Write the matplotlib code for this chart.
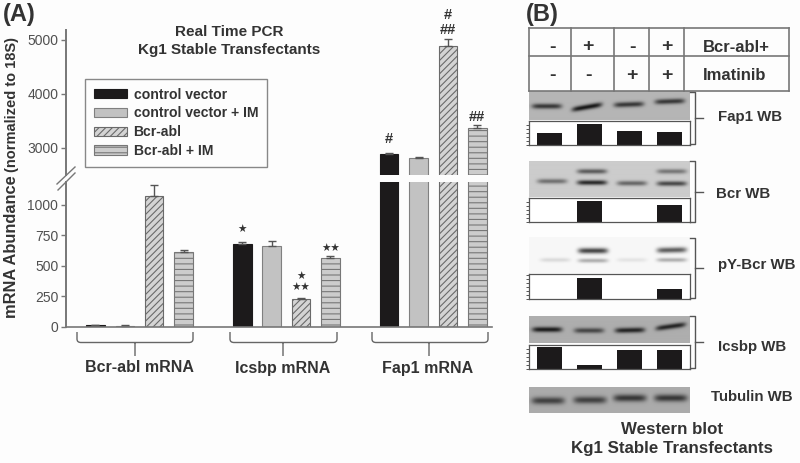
import numpy as np
import matplotlib
matplotlib.use("Agg")
import matplotlib.pyplot as plt
from matplotlib.path import Path
from matplotlib.patches import PathPatch

# Panel A data
groups = ["Bcr-abl mRNA", "Icsbp mRNA", "Fap1 mRNA"]
series_names = ["control vector", "control vector + IM", "Bcr-abl", "Bcr-abl + IM"]
control_vector = [10, 680, 2894]
control_vector_im = [8, 660, 2820]
bcr_abl = [1076, 226, 4889]
bcr_abl_im = [616, 566, 3376]
control_vector_err = [2, 15, 20]
control_vector_im_err = [2, 42, 20]
bcr_abl_err = [90, 5, 130]
bcr_abl_im_err = [14, 10, 55]
lower_ticks = [0, 250, 500, 750, 1000]
upper_ticks = [3000, 4000, 5000]

# (group, bar, label, pixels above the error bar)
marks = [(1, 0, "★", 12), (1, 2, "★★", 10), (1, 2, "★", 21), (1, 3, "★★", 8),
         (2, 0, "#", 14), (2, 2, "##", 9), (2, 2, "#", 24), (2, 3, "##", 8)]

# Panel B data
bcr_signs = ["-", "+", "-", "+"]
imatinib_signs = ["-", "-", "+", "+"]
fap1_density = [12, 21, 13.3, 12.6]
bcr_density = [0, 21, 0, 16.5]
pybcr_density = [0, 21.5, 0, 10]
icsbp_density = [22, 4.5, 19, 19]

# band strength per lane
fap1_band = [0.7, 0.88, 0.7, 0.7]
bcr_upper = [0, 0.55, 0, 0.42]
bcr_lower = [0.45, 0.8, 0.5, 0.65]
pybcr_upper = [0, 0.72, 0, 0.62]
pybcr_lower = [0.12, 0.3, 0.08, 0.3]
icsbp_band = [0.85, 0.6, 0.8, 0.8]
tubulin_band = [0.62, 0.62, 0.68, 0.68]

W, H = 800, 463
DARK = "#333333"
GREY = "#777777"

plt.rcParams["font.family"] = ["Liberation Sans", "DejaVu Sans"]
plt.rcParams["hatch.linewidth"] = 0.8

fig = plt.figure(figsize=(W / 100, H / 100), dpi=100, facecolor="#fdfdfd")


def px_axes(x0, y0, x1, y1):
    # axes from pixel box, y counted from the top
    ax = fig.add_axes([x0 / W, 1 - y1 / H, (x1 - x0) / W, (y1 - y0) / H])
    ax.patch.set_alpha(0)
    return ax


# Panel A bars, broken y axis
ax_up = px_axes(66, 30, 492, 175)
ax_low = px_axes(66, 182, 492, 326.5)

styles = [
    dict(color="#1c1a1b", edgecolor="#1c1a1b"),
    dict(color="#c2c2c2", edgecolor="#808080"),
    dict(facecolor="#d4d4d4", edgecolor="#6a6a6a", hatch="/////"),
    dict(facecolor="#cccccc", edgecolor="#777777", hatch="---"),
]
values = [control_vector, control_vector_im, bcr_abl, bcr_abl_im]
errors = [control_vector_err, control_vector_im_err, bcr_abl_err, bcr_abl_im_err]
handles = []
for j in range(4):
    xs = [g * 5 + j for g in range(len(groups))]
    for ax in (ax_up, ax_low):
        bars = ax.bar(xs, values[j], width=0.63, linewidth=0.8, **styles[j])
        ax.errorbar(xs, values[j], yerr=[[0, 0, 0], errors[j]], fmt="none",
                    ecolor="#555555", elinewidth=1, capsize=3, capthick=1)
    handles.append(bars)

ax_up.set_ylim(2500, 5185)
ax_low.set_ylim(0, 1189)
for ax in (ax_up, ax_low):
    ax.set_xlim(-1, 13.5)
    ax.set_xticks([])
    for side in ["top", "right"]:
        ax.spines[side].set_visible(False)
    ax.spines["left"].set_color(GREY)
    ax.spines["left"].set_linewidth(1.4)
    ax.tick_params(axis="y", length=3.5, width=1, color=GREY, labelsize=10, labelcolor="#505050", pad=2)
ax_up.spines["bottom"].set_visible(False)
ax_low.spines["bottom"].set_color(GREY)
ax_low.spines["bottom"].set_linewidth(1.2)
ax_up.set_yticks(upper_ticks)
ax_low.set_yticks(lower_ticks)

for g, j, label, dy in marks:
    ax = ax_up if g == 2 else ax_low
    top = values[j][g] + errors[j][g]
    size = 7.6 if "★" in label else 10.5
    ax.annotate(label, (g * 5 + j, top), xytext=(0, dy * 0.72), textcoords="offset points",
                ha="center", va="center", fontsize=size, color=DARK,
                fontweight="bold", annotation_clip=False)

fig.legend(handles=handles, labels=series_names, loc="upper left",
           bbox_to_anchor=(85 / W, 1 - 79 / H), bbox_transform=fig.transFigure,
           prop=dict(family="Liberation Sans", weight="bold", size=10.1),
           labelcolor=DARK, frameon=True, fancybox=False, framealpha=1,
           facecolor="#fdfdfd", edgecolor="#888888", borderaxespad=0,
           handlelength=2.35, handleheight=0.63, handletextpad=0.49,
           labelspacing=0.34, borderpad=0.62)


def blot(box, background, lanes, rows, half_width=15.0):
    # grey blot picture: rows is a list of (y per lane, strength per lane, tilt per lane, thickness)
    x0, y0, x1, y1 = box
    ax = px_axes(x0, y0, x1, y1)
    xx, yy = np.meshgrid(np.linspace(x0, x1, (x1 - x0) * 2), np.linspace(y0, y1, (y1 - y0) * 2))
    shade = np.zeros(xx.shape)
    for ys, strengths, tilts, sigma in rows:
        for lane, y_band, strength, tilt in zip(lanes, ys, strengths, tilts):
            across = np.exp(-((xx - lane) / half_width) ** 6)
            along = np.exp(-((yy - y_band - tilt * (lane - xx) / half_width) ** 2) / (2 * sigma ** 2))
            shade = np.maximum(shade, strength * across * along)
    img = background * (1 - shade)
    ax.imshow(img, cmap="gray", vmin=0, vmax=1, aspect="auto", interpolation="bilinear")
    ax.axis("off")


def density(box, heights):
    # little bar chart under each blot
    x0, y0, x1, y1 = box
    ax = px_axes(x0, y0, x1, y1)
    ax.bar(range(4), heights, width=0.62, color="#1c1a1b")
    ax.set_xlim(-0.51, 3.51)
    ax.set_ylim(0, (y1 - y0))
    ax.set_xticks([])
    ax.set_yticks(np.arange(0, y1 - y0, 4))
    ax.set_yticklabels([])
    ax.tick_params(axis="y", length=2, width=0.7, color="#555555")
    ax.patch.set_facecolor("white")
    ax.patch.set_alpha(1)
    for s in ax.spines.values():
        s.set_color("#555555")
        s.set_linewidth(0.9)


blot((529, 91, 690, 120), 0.71, [546.7, 587, 629, 670],
     [([106.7, 107.5, 105, 102], fap1_band, [0, 2.5, 0.5, 0.5], 1.8)])
density((529, 121, 690, 144.5), fap1_density)

blot((529, 161, 690, 197), 0.80, [552, 592, 632, 672],
     [([172, 172, 172, 172], bcr_upper, [0, 0, 0, 0], 1.7),
      ([181.7, 183, 183.7, 184], bcr_lower, [0, 0, 0, 0], 1.7)])
density((529, 198, 690, 221.5), bcr_density)

blot((529, 237, 690, 273), 0.97, [555, 593, 632, 672],
     [([250, 250.7, 250, 250], pybcr_upper, [0, 0, 0, 0.3], 2.0),
      ([260, 260.7, 260, 260], pybcr_lower, [0, 0, 0, 0], 1.5)])
density((529, 274, 690, 299), pybcr_density)

blot((529, 316, 690, 343), 0.68, [547, 589, 630, 671],
     [([330, 331, 330.7, 327], icsbp_band, [0, 0, 0.3, 2], 1.8)])
density((529, 345, 690, 369), icsbp_density)

blot((529, 387, 690, 413), 0.67, [548, 590, 630, 671],
     [([400.7, 400, 398, 398], tubulin_band, [0, 0, 0, 0], 2.6)], half_width=16.5)

# page overlay in pixels: text, braces, table lines
page = fig.add_axes([0, 0, 1, 1])
page.set_xlim(0, W)
page.set_ylim(H, 0)
page.axis("off")

# axis break
page.plot([57, 75], [184, 167], color=GREY, lw=1)
page.plot([58, 75], [190, 173], color=GREY, lw=1)


def brace(x0, x1, xm):
    verts = [(x0, 332), (x0, 339), (x0, 342.5), (x0 + 4, 342.5), (x1 - 4, 342.5),
             (x1, 342.5), (x1, 339), (x1, 332), (xm, 342.5), (xm, 356)]
    codes = [Path.MOVETO, Path.LINETO, Path.CURVE3, Path.CURVE3, Path.LINETO,
             Path.CURVE3, Path.CURVE3, Path.LINETO, Path.MOVETO, Path.LINETO]
    page.add_patch(PathPatch(Path(verts, codes), fill=False, edgecolor="#666666", lw=1))


for (x0, x1, xm), name, xt in zip([(77, 193, 135), (230, 337, 283), (372, 488, 429)], groups, [139, 283, 428]):
    brace(x0, x1, xm)
    page.text(xt, 368, name, ha="center", va="center", fontsize=11.5, fontweight="bold", color=DARK)

page.text(12, 247, "mRNA Abundance", rotation=90, ha="center", va="center", fontsize=11.8, fontweight="bold", color=DARK)
page.text(12, 105, "(normalized to 18S)", rotation=90, ha="center", va="center", fontsize=10.5, fontweight="bold", color=DARK)
page.text(3, 15, "(A)", ha="left", va="center", fontsize=17, fontweight="bold", color=DARK)
page.text(526, 15, "(B)", ha="left", va="center", fontsize=17, fontweight="bold", color=DARK)
page.text(229, 32, "Real Time PCR", ha="center", va="center", fontsize=11, fontweight="bold", color=DARK)
page.text(229, 50, "Kg1 Stable Transfectants", ha="center", va="center", fontsize=11, fontweight="bold", color=DARK)

# sign table
for y in [27.7, 55.7, 90.7]:
    page.plot([529, 789], [y, y], color=GREY, lw=1.2)
for x in [529, 571, 614, 649, 684, 789]:
    page.plot([x, x], [27.7, 90.7], color=GREY, lw=1.2)
for x, a, b in zip([552, 588, 632, 667], bcr_signs, imatinib_signs):
    page.text(x, 47, a, ha="center", va="center", fontsize=14, fontweight="bold", color=DARK)
    page.text(x, 75.5, b, ha="center", va="center", fontsize=14, fontweight="bold", color=DARK)
page.text(736, 47, "Bcr-abl+", ha="center", va="center", fontsize=12, fontweight="bold", color=DARK)
page.text(735, 75, "Imatinib", ha="center", va="center", fontsize=12, fontweight="bold", color=DARK)

# brackets next to each blot
for y0, y1, ym in [(92, 144, 118), (161, 222, 192), (238, 298, 268), (316, 368, 342)]:
    page.plot([690, 695, 695, 690], [y0, y0, y1, y1], color="#555555", lw=1)
    page.plot([695, 703], [ym, ym], color="#555555", lw=1)

for x, y, name in [(750, 117, "Fap1 WB"), (743, 194, "Bcr WB"), (757, 265, "pY-Bcr WB"),
                   (752, 347, "Icsbp WB"), (752, 397, "Tubulin WB")]:
    page.text(x, y, name, ha="center", va="center", fontsize=10.8, fontweight="bold", color=DARK)

page.text(672, 429, "Western blot", ha="center", va="center", fontsize=12.2, fontweight="bold", color=DARK)
page.text(672, 449, "Kg1 Stable Transfectants", ha="center", va="center", fontsize=12.2, fontweight="bold", color=DARK)

fig.savefig("out.png", dpi=100, facecolor=fig.get_facecolor())
